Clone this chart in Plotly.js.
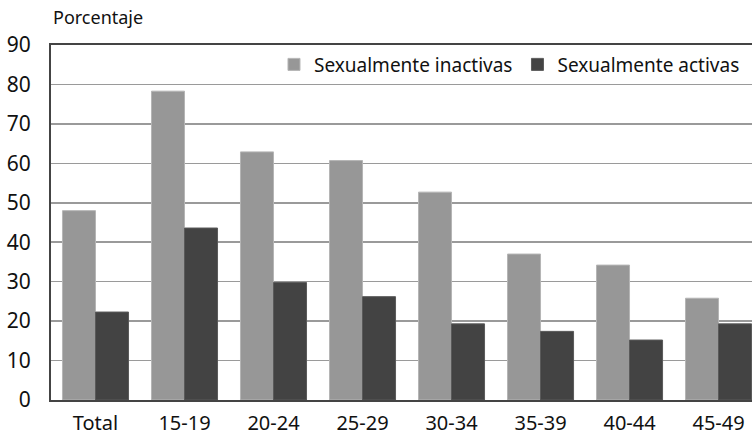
<!DOCTYPE html>
<html>
<head>
<meta charset="utf-8">
<script src="https://cdn.plot.ly/plotly-3.0.1.min.js"></script>
<style>html,body{margin:0;padding:0;background:#fff;}#chart{width:752px;height:436px;}</style>
</head>
<body>
<div id="chart"></div>
<script>
const categories = ["Total", "15-19", "20-24", "25-29", "30-34", "35-39", "40-44", "45-49"];
const inactivas = [48.0, 78.3, 62.9, 60.7, 52.7, 37.0, 34.2, 25.8];
const activas = [22.3, 43.6, 29.8, 26.2, 19.3, 17.4, 15.2, 19.3];
const seriesNames = ["Sexualmente inactivas", "Sexualmente activas"];
const yTicks = [0, 10, 20, 30, 40, 50, 60, 70, 80, 90];

const FONT = "Noto Sans, Open Sans, sans-serif";

const traces = [
  {type: "bar", name: seriesNames[0], x: categories, y: inactivas,
   marker: {color: "#979797", line: {color: "#b5b5b5", width: 1}}},
  {type: "bar", name: seriesNames[1], x: categories, y: activas,
   marker: {color: "#434343", line: {color: "#5a5a5a", width: 1}}}
];

const layout = {
  width: 752, height: 436,
  margin: {l: 51, r: 0, t: 45, b: 36, pad: 0},
  paper_bgcolor: "#fff", plot_bgcolor: "#fff",
  font: {family: FONT, size: 19, color: "#111"},
  barmode: "group", bargap: 0.258, bargroupgap: 0,
  showlegend: true,
  legend: {orientation: "h", x: 0.99, xanchor: "right", y: 0.945, yanchor: "middle",
           bgcolor: "rgba(255,255,255,0)", font: {family: FONT, size: 19, color: "#111"},
           itemwidth: 30, traceorder: "normal"},
  xaxis: {type: "category", range: [-0.5, 7.376], showgrid: false, ticks: "",
          showline: true, linecolor: "#444", linewidth: 2, mirror: true,
          ticklabelstandoff: 4,
          tickfont: {family: FONT, size: 20, color: "#111"}, fixedrange: true},
  yaxis: {range: [0, 90], tickvals: yTicks, ticks: "", showgrid: true,
          gridcolor: "#9a9a9a", gridwidth: 1.5, zeroline: false,
          showline: true, linecolor: "#444", linewidth: 2,
          ticklabelstandoff: 14,
          tickfont: {family: FONT, size: 21, color: "#111"}, fixedrange: true},
  annotations: [{text: "Porcentaje", xref: "paper", yref: "paper", x: 0, y: 1,
                 xanchor: "left", yanchor: "bottom", yshift: 14, xshift: 0, showarrow: false,
                 font: {family: FONT, size: 18, color: "#111"}}]
};

Plotly.newPlot("chart", traces, layout, {displayModeBar: false, staticPlot: true});
</script>
</body>
</html>
